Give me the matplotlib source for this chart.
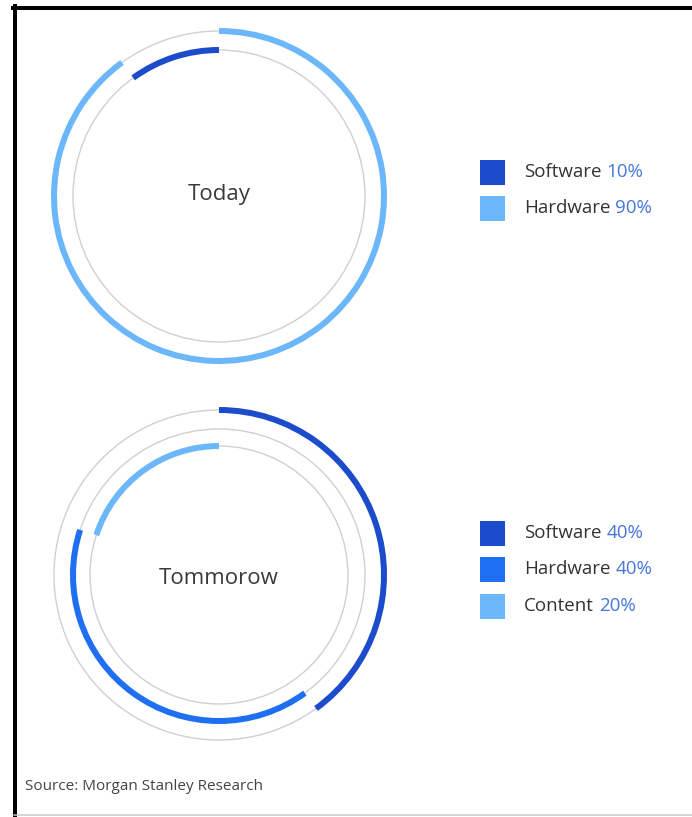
import matplotlib
matplotlib.use("Agg")
import matplotlib.pyplot as plt
from matplotlib.patches import Arc, Circle, Rectangle
from matplotlib.lines import Line2D

# ---- data ----
today_categories = ["Software", "Hardware"]
today_values = [10, 90]
today_ring_order = ["Hardware", "Software"]          # clockwise from 12 o'clock, outer ring first

tomorrow_categories = ["Software", "Hardware", "Content"]
tomorrow_values = [40, 40, 20]
tomorrow_ring_order = ["Software", "Hardware", "Content"]

chart_titles = ["Today", "Tommorow"]
source_text = "Source: Morgan Stanley Research"

# ---- style ----
colors = {"Software": "#1c4ccc", "Hardware": "#1f6ff2", "Content": "#6cb6fa"}
today_colors = {"Software": "#1c4ccc", "Hardware": "#6cb6fa"}
pct_color = "#4576de"
label_color = "#333333"
gray = "#d0d0d0"

W, H = 692, 817
fig = plt.figure(figsize=(W / 100, H / 100), dpi=100)
ax = fig.add_axes([0, 0, 1, 1])
ax.set_xlim(0, W)
ax.set_ylim(0, H)
ax.set_aspect("equal")
ax.axis("off")

FONT = ["Open Sans", "DejaVu Sans"]
ring_radii = [165, 146, 129]
ring_lw_px = 6
gray_lw_px = 1.4
px = 72 / 100


def draw_ring_chart(cx, cy_img, title_y_img, categories, values, order, cmap, title):
    cy = H - cy_img
    vals = dict(zip(categories, values))
    total = sum(values)
    n = len(order)
    for i in range(n):
        ax.add_patch(Circle((cx, cy), ring_radii[i], fill=False, edgecolor=gray,
                            linewidth=gray_lw_px * px, zorder=1))
    cum = 0.0
    for i, name in enumerate(order):
        f0 = cum / total
        cum += vals[name]
        f1 = cum / total
        theta1 = 90 - 360 * f1
        theta2 = 90 - 360 * f0
        r = ring_radii[i]
        ax.add_patch(Arc((cx, cy), 2 * r, 2 * r, theta1=theta1, theta2=theta2,
                         edgecolor=cmap[name], linewidth=ring_lw_px * px,
                         capstyle="butt", zorder=2))
    ax.text(cx, H - title_y_img, title, ha="center", va="center", fontsize=16,
            color="#3a3a3a", family=FONT)


def draw_legend(x_sq, y_centers_img, categories, values, cmap):
    for name, v, yc in zip(categories, values, y_centers_img):
        y = H - yc
        ax.add_patch(Rectangle((x_sq, y - 12.5), 25, 25, facecolor=cmap[name],
                               edgecolor="none", zorder=2))
        t = ax.text(x_sq + 44, y, name, ha="left", va="center", fontsize=13.5,
                    color=label_color, family=FONT)
        ax.annotate(f"{v}%", xy=(1, 0.5), xycoords=t, xytext=(3.5, 0),
                    textcoords="offset points", ha="left", va="center",
                    fontsize=13.5, color=pct_color, family=FONT)


draw_ring_chart(219, 196, 194, today_categories, today_values, today_ring_order,
                today_colors, chart_titles[0])
draw_ring_chart(219, 575, 578, tomorrow_categories, tomorrow_values, tomorrow_ring_order,
                colors, chart_titles[1])

draw_legend(480, [172, 208], today_categories, today_values, today_colors)
draw_legend(480, [533, 569, 606], tomorrow_categories, tomorrow_values, colors)

ax.text(25, H - 787, source_text, ha="left", va="center", fontsize=11,
        color="#444444", family=FONT)

# frame lines (left and top heavy, bottom light)
fig.add_artist(Line2D([14.5 / W, 14.5 / W], [0, 1 - 6 / H], transform=fig.transFigure,
                      color="black", linewidth=4 * px, solid_capstyle="projecting"))
fig.add_artist(Line2D([13 / W, 1], [1 - 8 / H, 1 - 8 / H], transform=fig.transFigure,
                      color="black", linewidth=4 * px))
fig.add_artist(Line2D([14 / W, 1], [2 / H, 2 / H], transform=fig.transFigure,
                      color="#c8c8c8", linewidth=1.5 * px))

fig.savefig("out.png", dpi=100)
